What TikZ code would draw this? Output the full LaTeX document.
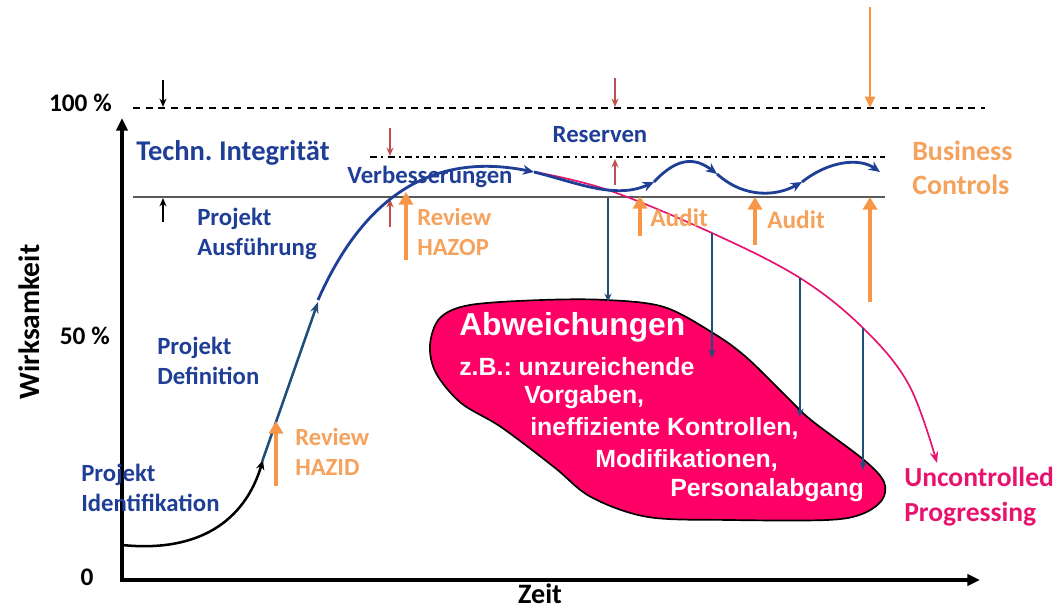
\documentclass[tikz,border=0pt]{standalone}
\usepackage{fontspec}
\setmainfont{Carlito}
\newfontfamily\arialfont{Liberation Sans}
\usetikzlibrary{arrows.meta}

\definecolor{techblue}{RGB}{31,62,150}
\definecolor{ctrlorange}{RGB}{247,150,70}
\definecolor{ctrltext}{RGB}{245,162,92}
\definecolor{devpink}{RGB}{255,0,102}
\definecolor{uncpink}{RGB}{230,20,110}
\definecolor{navyline}{RGB}{31,78,121}
\definecolor{marginred}{RGB}{192,80,77}

\begin{document}
\frenchspacing
\begin{tikzpicture}[x=0.025cm,y=-0.025cm,
    lbl/.style={font=\bfseries\fontsize{17.6}{21.5}\selectfont,text=techblue,align=left,inner sep=0pt},
    ctrl/.style={font=\bfseries\fontsize{17.5}{21.5}\selectfont,text=ctrltext,align=left,inner sep=0pt},
    axlbl/.style={font=\bfseries\fontsize{18}{20}\selectfont,inner sep=0pt},
    blobtxt/.style={font=\arialfont\bfseries\fontsize{17.7}{22}\selectfont,text=white,inner sep=0pt,anchor=west},
    bigup/.style={ctrlorange,line width=3pt,-{Triangle[length=9pt,width=10pt]}},
    thinarr/.style={line width=1pt,-{Stealth[length=6pt,width=5pt]}},
    wave/.style={techblue,line width=2pt,-{Stealth[length=8pt,width=7pt]}}]
      \useasboundingbox (0,0) rectangle (1054,609);
      % Axes
      \draw[line width=2.2pt,{Triangle[length=9pt,width=8pt]}-{Triangle[length=9pt,width=8pt]}] (122,118) -- (122,580) -- (980,580);
      \node[axlbl,anchor=east] (p100) at (112,103) {100 \%};
      \node[axlbl,anchor=east] (p50) at (110,336) {50 \%};
      \node[axlbl] (p0) at (87,577) {0};
      \node[axlbl,font=\bfseries\fontsize{21}{24}\selectfont,rotate=90] (wirk) at (29,322) {Wirksamkeit};
      \node[axlbl,font=\bfseries\fontsize{20}{24}\selectfont] (zeit) at (540,594) {Zeit};
      % Levels
      \draw[line width=0.8pt,dash pattern=on 5pt off 4pt] (133,108) -- (985,108);
      \draw[line width=0.8pt,dash pattern=on 5pt off 3pt on 1.5pt off 3pt] (370,157) -- (885,157);
      \draw[line width=1.5pt,black!65] (133,197) -- (885,197);
      \draw[thinarr] (163,80) -- (163,107);
      \draw[thinarr] (163,222) -- (163,198);
      \draw[thinarr,marginred] (390,128) -- (390,156);
      \draw[thinarr,marginred] (390,227) -- (390,199);
      \draw[thinarr,marginred] (615,78) -- (615,107);
      \draw[thinarr,marginred] (615,185) -- (615,159);
      \draw[ctrlorange,line width=1.5pt,-{Triangle[length=8pt,width=7pt]}] (870,7) -- (870,108);
      % Deviations
      \draw[line width=1.2pt,fill=devpink] plot[smooth cycle,tension=0.55] coordinates {
        (440,318) (470,305) (542,300) (607,300) (664,307) (713,333) (746,357)
        (787,397) (811,420) (864,460) (884,482) (882,500) (862,514) (827,520)
        (730,520) (648,517) (591,497) (554,467) (501,427) (461,403) (436,373) (430,345)};
      \node[blobtxt,font=\arialfont\bfseries\fontsize{22.6}{26}\selectfont] (abw) at (459,327) {Abweichungen};
      \node[blobtxt] (zb) at (459,367) {z.B.: unzureichende};
      \node[blobtxt] (vorg) at (524,397) {Vorgaben,};
      \node[blobtxt] (ineff) at (530,428) {ineffiziente Kontrollen,};
      \node[blobtxt] (modif) at (595,460) {Modifikationen,};
      \node[blobtxt] (pers) at (670,490) {Personalabgang};
      % Uncontrolled progressing
      \draw[uncpink,line width=1.2pt,-{Stealth[length=8pt,width=6pt]}] plot[smooth,tension=0.6] coordinates {
        (535,172) (608,190) (712,233) (800,278) (863,328) (909,385) (937,463)};
      \foreach \x/\ya/\yb in {608/198/302, 712/233/358, 800/278/417, 863/328/470} {
        \draw[thinarr,navyline] (\x,\ya) -- (\x,\yb);
      }
      \node[lbl,text=uncpink,font=\bfseries\fontsize{19.6}{25}\selectfont,anchor=west] (uncp) at (904,497) {Uncontrolled\\Progressing};
      % Effectiveness curve
      \draw[line width=1.8pt,-{Stealth[length=7pt,width=6pt]}] (122,545) .. controls (200,553) and (245,520) .. (263,460);
      \draw[navyline,line width=1.8pt,-{Stealth[length=8pt,width=6pt]}] (262,462) -- (318,302);
      \draw[wave] (318,300) .. controls (360,205) and (425,150) .. (534,172);
      \draw[wave] (534,172) .. controls (575,182) and (615,200) .. (654,182);
      \draw[wave] (654,182) .. controls (678,156) and (696,158) .. (717,174);
      \draw[wave] (717,174) .. controls (745,199) and (777,196) .. (802,182);
      \draw[wave] (802,182) .. controls (830,160) and (860,158) .. (880,172);
      % Controls
      \foreach \x/\ya/\yb in {276/486/421, 406/260/192, 640/236/196, 755/245/197, 870/302/197} {
        \draw[bigup] (\x,\ya) -- (\x,\yb);
      }
      \node[ctrl,anchor=west] (hazid) at (295,452) {Review\\HAZID};
      \node[ctrl,anchor=west] (hazop) at (417,232) {Review\\HAZOP};
      \node[ctrl,font=\bfseries\fontsize{18}{21}\selectfont,anchor=west] (audita) at (650,218) {Audit};
      \node[ctrl,font=\bfseries\fontsize{18}{21}\selectfont,anchor=west] (auditb) at (767,220) {Audit};
      \node[ctrl,font=\bfseries\fontsize{19.9}{24}\selectfont,anchor=west] (busi) at (912,168) {Business\\Controls};
      % Phases
      \node[lbl,font=\bfseries\fontsize{20.3}{24}\selectfont] (techn) at (233,153) {Techn. Integrität};
      \node[lbl] (verb) at (430,177) {Verbesserungen};
      \node[lbl] (reserv) at (600,135) {Reserven};
      \node[lbl,anchor=west] (ausf) at (197,234) {Projekt\\Ausführung};
      \node[lbl,anchor=west] (defin) at (157,361) {Projekt\\Definition};
      \node[lbl,anchor=west] (ident) at (81,488) {Projekt\\Identifikation};
    \end{tikzpicture}
\end{document}
